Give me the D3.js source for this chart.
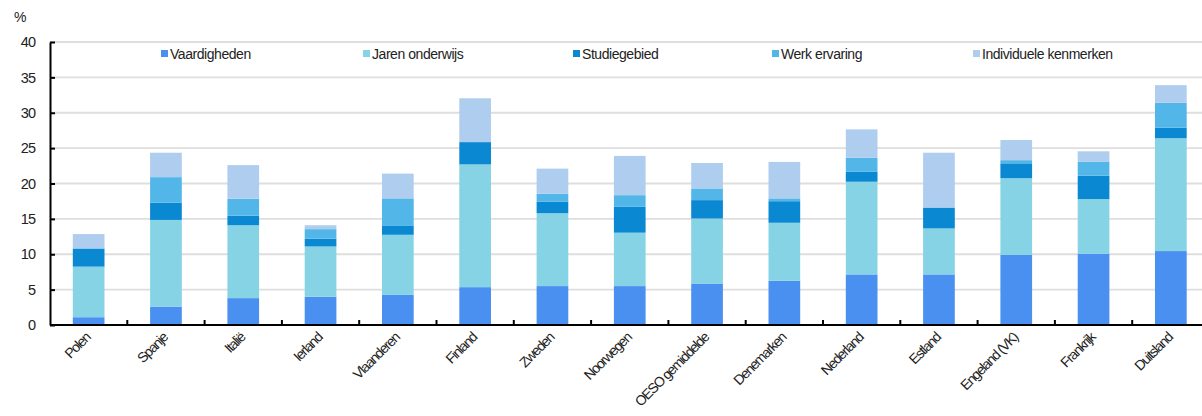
<!DOCTYPE html>
<html>
<head>
<meta charset="utf-8">
<script src="https://cdn.jsdelivr.net/npm/d3@7"></script>
<style>
  html, body { margin: 0; padding: 0; background: #fff; }
  svg { display: block; font-family: "Liberation Sans", Arial, sans-serif; }
</style>
</head>
<body>
<svg id="chart" width="1202" height="416"></svg>
<script>
// Categories (countries / regions)
const categories = ["Polen", "Spanje", "Italië", "Ierland", "Vlaanderen", "Finland", "Zweden",
  "Noorwegen", "OESO gemiddelde", "Denemarken", "Nederland", "Estland", "Engeland (VK)",
  "Frankrijk", "Duitsland"];

// Series names, in stacking order (bottom to top)
const seriesNames = ["Vaardigheden", "Jaren onderwijs", "Studiegebied", "Werk ervaring", "Individuele kenmerken"];

// Contribution of each factor (percentage points)
const vaardigheden         = [1.1, 2.6, 3.8, 4.0, 4.3, 5.35, 5.5, 5.5, 5.8, 6.25, 7.15, 7.15, 9.9, 10.05, 10.45];
const jarenOnderwijs       = [7.15, 12.25, 10.3, 7.1, 8.45, 17.35, 10.3, 7.55, 9.25, 8.2, 13.1, 6.5, 10.85, 7.75, 15.95];
const studiegebied         = [2.5, 2.45, 1.35, 1.1, 1.25, 3.15, 1.65, 3.65, 2.6, 3.05, 1.4, 2.95, 2.1, 3.3, 1.5];
const werkErvaring         = [0.1, 3.6, 2.4, 1.35, 3.9, 0.0, 1.1, 1.65, 1.65, 0.4, 2.0, 0.0, 0.45, 2.0, 3.5];
const individueleKenmerken = [2.0, 3.45, 4.75, 0.55, 3.5, 6.2, 3.55, 5.55, 3.6, 5.15, 4.0, 7.75, 2.85, 1.45, 2.5];

// Y axis ticks
const yTicks = [0, 5, 10, 15, 20, 25, 30, 35, 40];

const colors = ["#4a90f0", "#86d3e5", "#0a88d2", "#53b6e9", "#afcdee"];

const seriesValues = [vaardigheden, jarenOnderwijs, studiegebied, werkErvaring, individueleKenmerken];
const rows = categories.map((c, i) => {
  const r = { category: c };
  seriesNames.forEach((s, k) => { r[s] = seriesValues[k][i]; });
  return r;
});
const stacked = d3.stack().keys(seriesNames)(rows);

const svg = d3.select("#chart");
const plotLeft = 50, plotTop = 42, plotBottom = 325;
const bandW = 77.3;
const plotRight = plotLeft + bandW * categories.length;

const x = d3.scaleBand().domain(categories).range([plotLeft, plotRight]).paddingInner(0.59).paddingOuter(0.295);
const xb = d3.scaleBand().domain(categories).range([plotLeft, plotRight]);
const y = d3.scaleLinear().domain([0, 40]).range([plotBottom, plotTop]);

// Horizontal gridlines
svg.append("g").selectAll("line").data(yTicks.filter(t => t > 0)).join("line")
  .attr("x1", plotLeft).attr("x2", 1202)
  .attr("y1", d => y(d)).attr("y2", d => y(d))
  .attr("stroke", "#dedede").attr("stroke-width", 1.8);

// Stacked bars
svg.append("g").selectAll("g").data(stacked).join("g")
  .attr("fill", (d, i) => colors[i])
  .selectAll("rect").data(d => d).join("rect")
  .attr("x", d => x(d.data.category))
  .attr("width", x.bandwidth())
  .attr("y", d => y(d[1]))
  .attr("height", d => Math.max(0, y(d[0]) - y(d[1])));

// Y axis
const yAxis = d3.axisLeft(y).tickValues(yTicks).tickSizeInner(-5).tickSizeOuter(0).tickPadding(15);
const gy = svg.append("g").attr("transform", `translate(${plotLeft},0)`).call(yAxis);
gy.select(".domain").attr("stroke", "#000").attr("stroke-width", 2);
gy.selectAll(".tick line").attr("stroke", "#000").attr("stroke-width", 2);
gy.selectAll(".tick text").attr("font-size", 14.5).attr("fill", "#222")
  .attr("letter-spacing", -1).attr("font-family", "Liberation Sans, Arial, sans-serif");

// X axis baseline and separator ticks
svg.append("line").attr("x1", plotLeft).attr("x2", 1202).attr("y1", plotBottom).attr("y2", plotBottom)
  .attr("stroke", "#000").attr("stroke-width", 2);
svg.append("g").selectAll("line").data(categories.slice(1)).join("line")
  .attr("x1", d => xb(d)).attr("x2", d => xb(d))
  .attr("y1", plotBottom).attr("y2", plotBottom - 5)
  .attr("stroke", "#000").attr("stroke-width", 2);

// Category labels
svg.append("g").selectAll("text").data(categories).join("text")
  .attr("transform", d => `translate(${xb(d) + xb.bandwidth() / 2 - 1},${plotBottom + 10}) rotate(-45)`)
  .attr("text-anchor", "end")
  .attr("dy", "0.35em")
  .attr("font-size", 14).attr("letter-spacing", -1.3).attr("fill", "#222")
  .text(d => d);

// Unit label
svg.append("text").attr("x", 14).attr("y", 22).attr("font-size", 14).attr("fill", "#222").text("%");

// Legend
const legendX = [161, 363, 573, 772, 973];
const lg = svg.append("g").selectAll("g").data(seriesNames).join("g")
  .attr("transform", (d, i) => `translate(${legendX[i]},54)`);
lg.append("rect").attr("x", 0).attr("y", -4).attr("width", 7).attr("height", 7)
  .attr("fill", (d, i) => colors[i]);
lg.append("text").attr("x", 9).attr("y", 0).attr("dy", "0.35em")
  .attr("font-size", 14).attr("letter-spacing", -0.45).attr("fill", "#222")
  .text(d => d);
</script>
</body>
</html>
